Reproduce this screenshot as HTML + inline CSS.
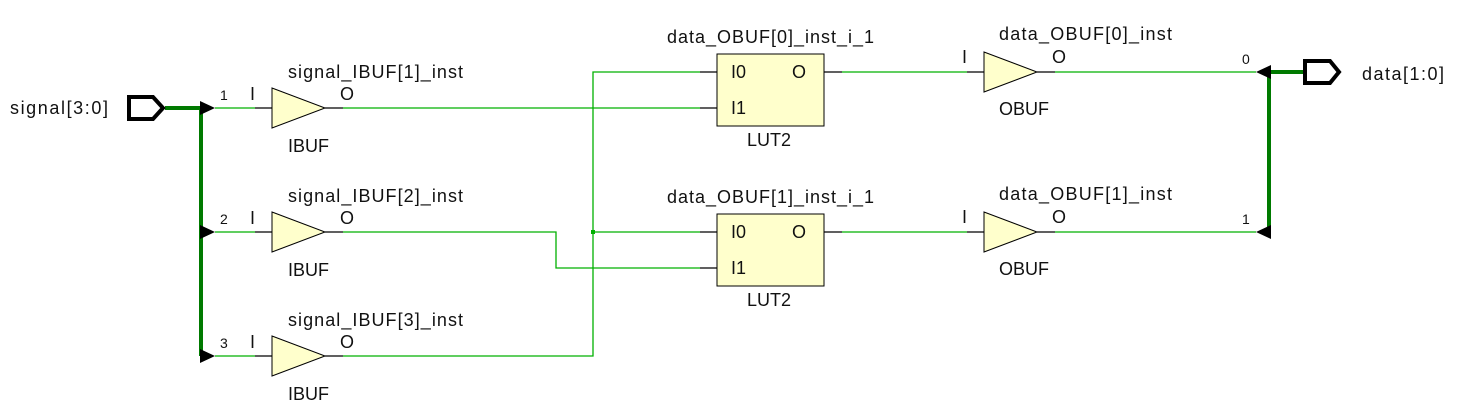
<!DOCTYPE html>
<html><head><style>body{margin:0;background:#fff}svg{display:block}text{font-family:"Liberation Sans",sans-serif;fill:#111}</style></head><body>
<svg width="1460" height="419" xmlns="http://www.w3.org/2000/svg">
<g fill="none" stroke="#00b000" stroke-width="1.3">
<path d="M343 108H700"/>
<path d="M343 232H556V268H700"/>
<path d="M343 356H593V72H700"/>
<path d="M593 232H700"/>
<path d="M842 72H967"/><path d="M842 232H967"/>
<path d="M1055 72H1256"/><path d="M1055 232H1256"/>
<path d="M215 108H255"/><path d="M215 232H255"/><path d="M215 356H255"/>
</g>
<rect x="591" y="230" width="4" height="4" fill="#00b000"/>
<g stroke="#007a00" stroke-width="4" fill="none">
<path d="M165 108H201V356"/>
<path d="M1303 72H1269V232"/>
</g>
<g fill="#000">
<path d="M200 101L215 108L200 115Z"/><path d="M200 225L215 232L200 239Z"/><path d="M200 349L215 356L200 363Z"/>
<path d="M1271 65L1256 72L1271 79Z"/><path d="M1271 225L1256 232L1271 239Z"/>
</g>
<g stroke="#000" stroke-width="1.3">
<path d="M255 108H272M325 108H343"/><path d="M255 232H272M325 232H343"/><path d="M255 356H272M325 356H343"/>
<path d="M700 72H717M700 108H717M824 72H842"/>
<path d="M700 232H717M700 268H717M824 232H842"/>
<path d="M967 72H984M1037 72H1055"/><path d="M967 232H984M1037 232H1055"/>
</g>
<g fill="#ffffcc" stroke="#000" stroke-width="1">
<path d="M272 88L325 108L272 128Z"/><path d="M272 212L325 232L272 252Z"/><path d="M272 336L325 356L272 376Z"/>
<path d="M984 52L1037 72L984 92Z"/><path d="M984 212L1037 232L984 252Z"/>
<rect x="717" y="54" width="107" height="72"/><rect x="717" y="214" width="107" height="72"/>
</g>
<g fill="#fff" stroke="#000" stroke-width="4">
<path d="M129 97H153L163 108L153 119H129Z"/>
<path d="M1305 61H1330L1339 72L1330 83H1305Z"/>
</g>
<g font-size="18">
<text x="10" y="114" textLength="98">signal[3:0]</text>
<text x="1362" y="80" textLength="82">data[1:0]</text>
<text x="288" y="78" textLength="175">signal_IBUF[1]_inst</text><text x="288" y="202" textLength="175">signal_IBUF[2]_inst</text><text x="288" y="326" textLength="175">signal_IBUF[3]_inst</text>
<text x="288" y="152">IBUF</text><text x="288" y="276">IBUF</text><text x="288" y="400">IBUF</text>
<text x="250" y="100">I</text><text x="340" y="100">O</text>
<text x="250" y="224">I</text><text x="340" y="224">O</text>
<text x="250" y="348">I</text><text x="340" y="348">O</text>
<text x="667" y="43" textLength="207">data_OBUF[0]_inst_i_1</text><text x="667" y="203" textLength="207">data_OBUF[1]_inst_i_1</text>
<text x="731" y="78">I0</text><text x="731" y="114">I1</text><text x="792" y="78">O</text><text x="747" y="146">LUT2</text>
<text x="731" y="238">I0</text><text x="731" y="274">I1</text><text x="792" y="238">O</text><text x="747" y="306">LUT2</text>
<text x="999" y="40" textLength="173">data_OBUF[0]_inst</text><text x="999" y="200" textLength="173">data_OBUF[1]_inst</text>
<text x="962" y="63">I</text><text x="1052" y="63">O</text><text x="999" y="115">OBUF</text>
<text x="962" y="223">I</text><text x="1052" y="223">O</text><text x="999" y="275">OBUF</text>
</g>
<g font-size="14">
<text x="220" y="100">1</text><text x="220" y="224">2</text><text x="220" y="348">3</text>
<text x="1242" y="64">0</text><text x="1242" y="224">1</text>
</g>
</svg>
</body></html>
